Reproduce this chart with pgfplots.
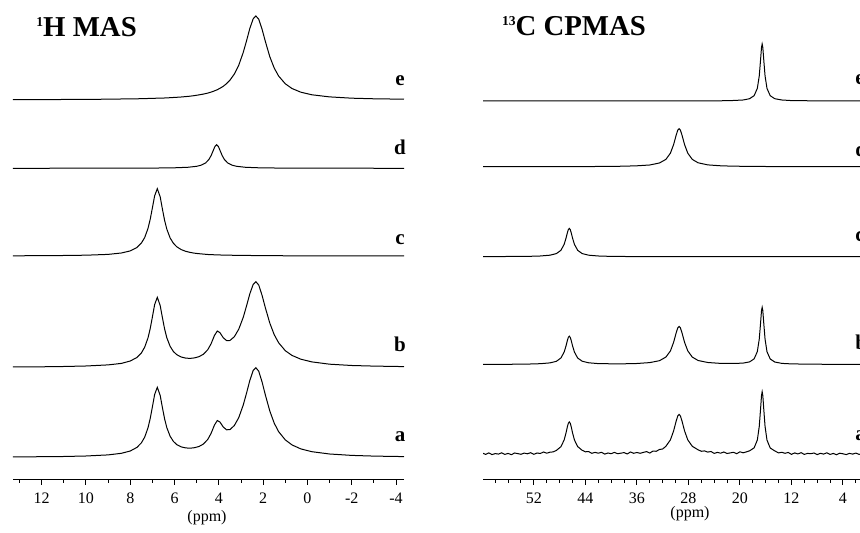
\documentclass[border=0pt]{standalone}
\usepackage{fontspec}
\setmainfont{Liberation Serif}
\usepackage{pgfplots}
\pgfplotsset{compat=1.18}
\pgfplotsset{
  spec/.style={
    scale only axis,
    height=240pt,
    ymin=53, ymax=533,
    axis x line=bottom, axis y line=none,
    x dir=reverse,
    x axis line style={-, line width=0.5pt, black},
    ytick=\empty,
    tick align=outside,
    major tick length=2.4pt, minor tick length=1.4pt,
    tick style={black, line width=0.5pt},
    xticklabel style={font=\fontsize{8}{9}\selectfont, yshift=-0.6pt},
    cycle list={{black, line width=0.5pt, mark=none}},
    every axis plot post/.append style={black, line width=0.5pt, mark=none},
    anchor=south west,
  },
}
\tikzset{lab/.style={font=\fontsize{10.5}{12}\selectfont\bfseries, inner sep=0pt}}
\begin{document}
\begin{tikzpicture}
% ---------------- 1H MAS ----------------
\begin{axis}[spec, at={(6.35pt,26.5pt)}, width=195.65pt,
  xmin=-4.36, xmax=13.31,
  xtick={12,10,8,6,4,2,0,-2,-4}, xticklabels={12,10,8,6,4,2,0,-2,-4},
  minor xtick={13,11,9,7,5,3,1,-1,-3}]
% e
\addplot table {
13.3 433.3
12 433.4
11 433.5
10 433.6
9 433.8
8.4 434.0
8 434.1
7.7 434.2
7.5 434.3
7.35 434.4
7.2 434.5
7.1 434.5
7.0 434.6
6.9 434.7
6.78 434.8
6.65 434.9
6.55 434.9
6.45 435.0
6.35 435.1
6.2 435.3
6.05 435.5
5.9 435.7
5.7 436.0
5.5 436.4
5.3 436.8
5.1 437.4
4.9 438.1
4.7 438.9
4.5 439.9
4.35 440.9
4.2 442.1
4.07 443.3
3.95 444.7
3.8 446.7
3.65 449.4
3.5 452.8
3.3 459.0
3.1 467.9
2.9 480.5
2.75 492.2
2.6 504.7
2.45 514.2
2.33 517.0
2.2 513.8
2.05 503.8
1.9 491.5
1.7 476.3
1.5 464.9
1.3 456.9
1.0 449.2
0.7 444.5
0.3 440.8
-0.2 438.2
-1.0 436.1
-2.0 434.8
-3.0 434.2
-4.36 433.8
};
% d
\addplot table {
13.3 364.7
9 364.8
7 364.9
6 365.2
5.4 365.7
5.0 366.7
4.8 367.8
4.6 370.0
4.45 373.5
4.35 377.4
4.25 382.7
4.18 386.4
4.10 388.3
4.02 386.4
3.95 382.7
3.85 377.4
3.75 373.5
3.6 370.0
3.4 367.8
3.2 366.7
2.8 365.7
2.2 365.2
1.2 364.9
-0.8 364.8
-4.36 364.7
};
% c
\addplot table {
13.3 277.2
12 277.3
11 277.5
10 277.8
9 278.6
8.4 280.0
8 282.1
7.7 285.5
7.5 289.9
7.35 295.4
7.2 304.6
7.1 313.7
7.0 325.3
6.9 337.2
6.78 344.3
6.65 336.2
6.55 324.0
6.45 312.6
6.35 303.8
6.2 295.0
6.05 289.6
5.9 286.2
5.7 283.4
5.5 281.7
5.3 280.6
5.1 279.8
4.9 279.3
4.7 278.9
4.5 278.5
4.2 278.2
3.8 277.9
3.3 277.7
2.6 277.5
1.7 277.3
0.7 277.2
-1.0 277.1
-4.36 277.1
};
% b
\addplot table {
13.3 166.0
12 166.2
11 166.5
10 167.0
9 168.1
8.4 169.6
8 172.0
7.7 175.5
7.5 180.0
7.35 185.8
7.2 195.1
7.1 204.4
7.0 216.2
6.9 228.4
6.78 235.7
6.65 227.5
6.55 215.4
6.45 204.0
6.35 195.2
6.2 186.6
6.05 181.4
5.9 178.3
5.7 176.0
5.5 174.9
5.3 174.6
5.1 175.1
4.9 176.3
4.7 178.7
4.5 183.3
4.35 189.3
4.2 197.5
4.07 202.0
3.95 200.3
3.8 195.2
3.65 192.4
3.5 192.5
3.3 196.3
3.1 203.9
2.9 215.6
2.75 227.1
2.6 239.3
2.45 248.6
2.33 251.3
2.2 248.0
2.05 237.7
1.9 225.2
1.7 209.9
1.5 198.3
1.3 190.2
1.0 182.3
0.7 177.6
0.3 173.8
-0.2 171.1
-1.0 168.8
-2.0 167.5
-3.0 166.9
-4.36 166.4
};
% a
\addplot table {
13.3 76.0
12 76.3
11 76.5
10 77.0
9 78.1
8.4 79.7
8 82.0
7.7 85.6
7.5 90.1
7.35 95.8
7.2 105.2
7.1 114.5
7.0 126.3
6.9 138.5
6.78 145.7
6.65 137.6
6.55 125.5
6.45 114.1
6.35 105.3
6.2 96.7
6.05 91.5
5.9 88.4
5.7 86.1
5.5 85.1
5.3 84.8
5.1 85.3
4.9 86.5
4.7 88.9
4.5 93.6
4.35 99.7
4.2 107.9
4.07 112.5
3.95 110.9
3.8 105.9
3.65 103.2
3.5 103.4
3.3 107.5
3.1 115.5
2.9 127.9
2.75 139.9
2.6 152.7
2.45 162.5
2.33 165.3
2.2 161.8
2.05 151.1
1.9 138.0
1.7 122.0
1.5 109.8
1.3 101.3
1.0 93.1
0.7 88.1
0.3 84.1
-0.2 81.3
-1.0 79.0
-2.0 77.6
-3.0 76.9
-4.36 76.4
};
\end{axis}
% ---------------- 13C CPMAS ----------------
\begin{axis}[spec, at={(241.5pt,26.5pt)}, width=199.3pt,
  xmin=-2, xmax=59.9,
  xtick={4,12,20,28,36,44,52}, xticklabels={4,12,20,28,36,44,52},
  minor xtick={58,56,54,50,48,46,42,40,38,34,32,30,26,24,22,18,16,14,10,8,6,2,0}]
% e
\addplot table {
59.9 432.0
40 432.0
30 432.1
25 432.1
23 432.2
21 432.5
19.5 433.0
18.5 434.3
17.8 437.3
17.3 444.6
17.0 457.1
16.8 473.0
16.65 485.6
16.55 489.0
16.45 485.6
16.3 473.0
16.1 457.1
15.8 444.6
15.3 437.3
14.6 434.3
13.5 433.0
12 432.4
9 432.2
6 432.1
-2 432.0
};
% d
\addplot table {
59.9 366.3
53 366.4
46.5 366.4
42 366.5
40 366.6
38 366.8
36 367.2
34 368.0
32.5 370.0
31.5 373.6
30.8 379.8
30.3 388.4
29.9 397.9
29.65 402.9
29.45 404.3
29.25 402.9
29.0 397.9
28.6 388.4
28.1 379.8
27.4 373.6
26.5 370.2
25 368.1
23 367.2
21 366.8
19.5 366.7
16.55 366.5
12 366.4
6 366.4
-2 366.3
};
% c
\addplot table {
59.9 276.4
56 276.5
53 276.6
51 277.0
49.5 277.8
48.5 279.4
47.8 282.7
47.3 288.6
47.0 295.0
46.8 300.2
46.65 303.4
46.5 304.6
46.35 303.4
46.2 300.2
46.0 295.0
45.7 288.6
45.2 282.7
44.5 279.4
43.5 277.8
42 277.0
40 276.6
38 276.5
36 276.4
32 276.4
25 276.3
-2 276.3
};
% b
\addplot table {
59.9 168.6
56 168.7
53 168.9
51 169.3
49.5 170.1
48.5 171.7
47.8 175.0
47.3 180.9
47.0 187.3
46.8 192.5
46.65 195.6
46.5 196.8
46.35 195.6
46.2 192.5
46.0 187.3
45.7 180.9
45.2 175.0
44.5 171.8
43.5 170.2
42 169.4
40 169.2
38 169.2
36 169.5
34 170.4
32.5 172.3
31.5 175.9
30.8 182.0
30.3 190.7
29.9 200.2
29.65 205.2
29.45 206.6
29.25 205.2
29.0 200.2
28.6 190.7
28.1 182.1
27.4 175.9
26.5 172.5
25 170.5
23 169.6
21 169.5
19.5 169.9
18.5 171.1
17.8 174.1
17.3 181.4
17.0 193.9
16.8 209.7
16.65 222.4
16.55 225.7
16.45 222.4
16.3 209.7
16.1 193.9
15.8 181.3
15.3 174.0
14.6 171.0
13.5 169.6
12 169.1
9 168.8
6 168.7
3 168.6
-2 168.6
};
% a (noisy)
\addplot table {
59.9 79.7
59.5 78.6
59.0 80.1
58.5 78.4
58.0 79.4
57.5 78.9
57.0 80.2
56.5 78.6
56.0 79.6
55.5 78.3
55.0 80.0
54.5 79.4
54.0 78.7
53.5 79.9
53.0 79.2
52.5 80.3
52.0 78.7
51.5 80.0
51.0 79.5
50.5 81.0
50.0 79.8
49.5 80.8
49.0 81.1
48.5 82.6
47.8 86.3
47.3 93.0
47.0 100.3
46.8 106.2
46.65 109.7
46.5 111.1
46.35 109.7
46.2 106.2
46.0 100.3
45.7 93.0
45.2 86.4
44.5 82.7
44.0 81.2
43.5 81.4
43.0 79.7
42.5 80.6
42.0 79.8
41.5 80.7
41.0 78.9
40.5 80.0
40.0 79.3
39.5 80.6
39.0 79.3
38.5 79.8
38.0 80.4
37.5 79.05
37.0 81.0
36.5 79.7
36.0 80.5
35.5 79.7
35.0 80.6
34.5 81.4
34.0 79.95
33.5 81.95
33.0 81.7
32.5 83.5
32.0 84.0
31.5 86.7
30.8 93.1
30.3 102.1
29.9 112.0
29.65 117.1
29.45 118.6
29.25 117.1
29.0 112.0
28.6 102.1
28.1 93.1
27.4 86.7
26.5 83.2
26.0 81.7
25.5 82.1
25.0 80.9
24.5 81.5
24.0 79.6
23.5 80.6
23.0 79.8
22.5 81.0
22.0 79.5
21.5 80.1
21.0 80.7
20.5 79.3
20.0 81.2
19.5 80.2
19.0 81.1
18.5 82.2
17.8 85.1
17.3 93.0
17.0 106.6
16.8 123.8
16.65 137.6
16.55 141.3
16.45 137.6
16.3 123.8
16.1 106.6
15.8 92.9
15.3 85.0
14.6 82.1
14.0 80.1
13.5 80.7
13.0 79.7
12.5 80.55
12.0 78.6
11.5 80.1
11.0 79.05
10.5 80.3
10.0 78.6
9.5 79.6
9.0 79.3
8.5 80.0
8.0 78.4
7.5 79.7
7.0 78.9
6.5 80.2
6.0 78.6
5.5 79.55
5.0 78.25
4.5 79.8
4.0 79.2
3.5 78.4
3.0 79.6
2.5 78.9
2.0 79.9
1.5 78.6
1.0 79.4
0.5 80.0
0.0 78.7
-0.5 79.3
-1.0 79.7
-1.5 78.4
-2.0 79.1
};
\end{axis}
% titles
\node[anchor=base west, font=\fontsize{14.4}{17}\selectfont\bfseries, inner sep=0pt] at (18pt,248.2pt)
  {\raisebox{5pt}{\fontsize{6.8}{8}\selectfont 1}H MAS};
\node[anchor=base west, font=\fontsize{14.4}{17}\selectfont\bfseries, inner sep=0pt] at (250.8pt,248.5pt)
  {\raisebox{5pt}{\fontsize{6.8}{8}\selectfont 13}C CPMAS};
% trace labels, left
\node[lab, anchor=base] at (200pt,223.5pt) {e};
\node[lab, anchor=base] at (200pt,189pt) {d};
\node[lab, anchor=base] at (200pt,144pt) {c};
\node[lab, anchor=base] at (200pt,90.5pt) {b};
\node[lab, anchor=base] at (200pt,45.5pt) {a};
% trace labels, right (cut by the edge, as in the reference)
\node[lab, anchor=base west] at (427.5pt,224pt) {e};
\node[lab, anchor=base west] at (427.5pt,188pt) {d};
\node[lab, anchor=base west] at (427.5pt,145.5pt) {c};
\node[lab, anchor=base west] at (427.5pt,91.5pt) {b};
\node[lab, anchor=base west] at (427.5pt,46pt) {a};
% axis titles
\node[font=\fontsize{8}{9}\selectfont] at (103.5pt,7.5pt) {(ppm)};
\node[font=\fontsize{8}{9}\selectfont] at (345pt,9.8pt) {(ppm)};
\pgfresetboundingbox
\path[use as bounding box] (0,0) rectangle (430pt,266.5pt);
\end{tikzpicture}
\end{document}
